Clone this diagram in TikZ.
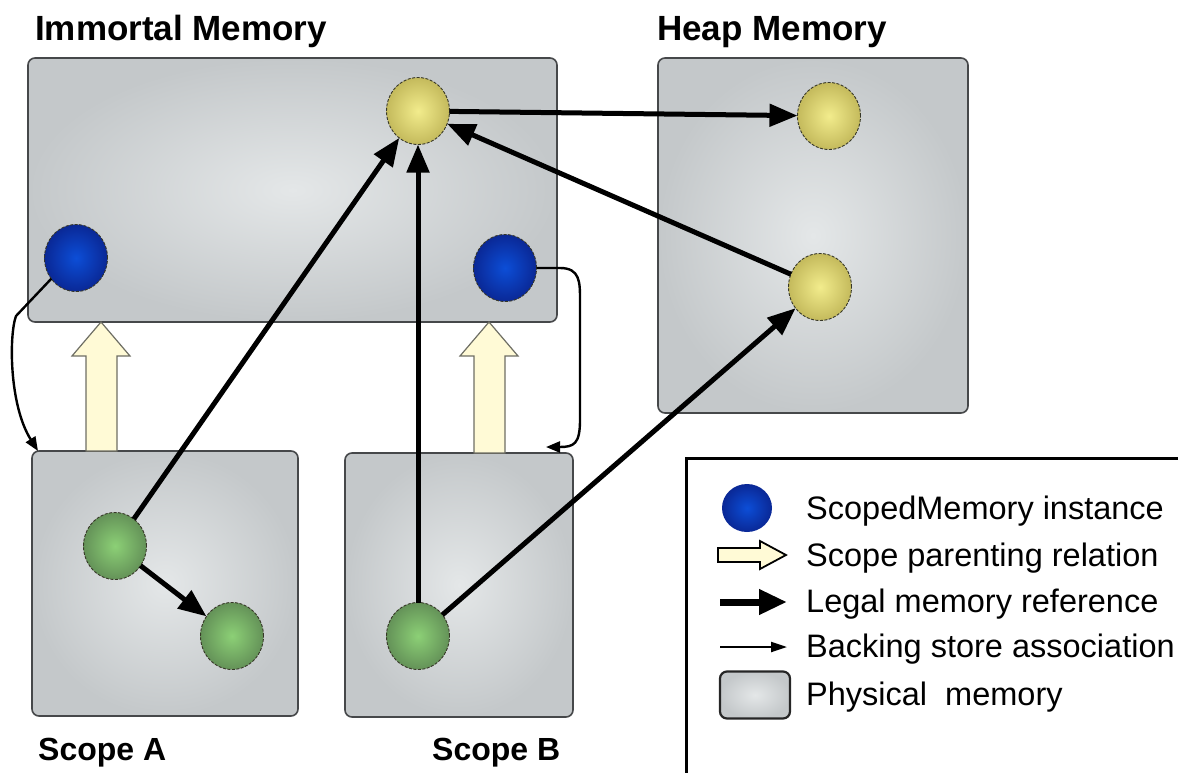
\documentclass[tikz,border=0pt]{standalone}
\usepackage{fontspec}
\setmainfont{Liberation Sans}
\usetikzlibrary{shapes.geometric,arrows.meta}
\definecolor{boxin}{RGB}{228,231,232}
\definecolor{boxout}{RGB}{196,200,202}
\definecolor{boxedge}{RGB}{70,72,74}
\definecolor{yin}{RGB}{242,236,140}
\definecolor{yout}{RGB}{196,186,92}
\definecolor{gin}{RGB}{140,208,118}
\definecolor{gout}{RGB}{100,146,88}
\definecolor{bin}{RGB}{12,78,215}
\definecolor{bout}{RGB}{10,40,150}
\definecolor{cream}{RGB}{255,250,214}
\definecolor{creamedge}{RGB}{110,110,100}
\definecolor{rimline}{RGB}{55,55,40}
\tikzset{
  x=1pt, y=-1pt,
  memory/.style={draw=boxedge, line width=1.6pt, rounded corners=7pt,
    inner color=boxin, outer color=boxout, inner sep=0pt, outer sep=0pt},
  obj/.style={ellipse, minimum width=63pt, minimum height=67pt, inner sep=0pt,
    outer sep=0pt, draw=rimline, line width=0.9pt, dash pattern=on 3pt off 1.5pt},
  heapobj/.style={obj, inner color=yin, outer color=yout},
  scopeobj/.style={obj, inner color=gin, outer color=gout},
  scopemem/.style={obj, inner color=bin, outer color=bout},
  legal/.style={line width=5pt, -{Triangle[length=28pt,width=22pt]}},
  backing/.style={line width=2.4pt, -{Triangle[length=14pt,width=11pt]}},
  parent/.style={fill=cream, draw=creamedge, line width=1.2pt, line join=miter},
  title/.style={font=\bfseries\fontsize{35}{40}\selectfont, anchor=base west, inner sep=0pt},
  scopelabel/.style={font=\bfseries\fontsize{32}{36}\selectfont, anchor=base west, inner sep=0pt},
  legendtext/.style={font=\fontsize{32.5}{36}\selectfont, anchor=base west, inner sep=0pt},
}
\begin{document}
\begin{tikzpicture}
\useasboundingbox (0,0) rectangle (1178,772);

% titles
\node[title] (timm) at (35,40) {Immortal Memory};
\node[title] (theap) at (657,40) {Heap Memory};

% memory areas
\node[memory, minimum width=529pt, minimum height=264pt] (imm) at (292.5,190) {};
\node[memory, minimum width=310pt, minimum height=355pt] (heap) at (813,235.5) {};
\node[memory, minimum width=266pt, minimum height=265pt] (sa) at (165,583.5) {};
\node[memory, minimum width=228pt, minimum height=264pt] (sb) at (459,585) {};

\node[scopelabel] (lsa) at (38,760) {Scope A};
\node[scopelabel] (lsb) at (432,760) {Scope B};

% scope parenting arrows
\draw[parent] (86,451) -- (86,356) -- (72,356) -- (101,322) -- (130,356) -- (117,356) -- (117,451) -- cycle;
\draw[parent] (474,453) -- (474,356) -- (460,356) -- (489,322) -- (518,356) -- (505,356) -- (505,453) -- cycle;

% objects
\node[heapobj] (imy) at (418,111) {};
\node[heapobj] (hy1) at (829,116) {};
\node[heapobj] (hy2) at (820,287) {};
\node[scopemem] (bl) at (76,258) {};
\node[scopemem] (br) at (505,268) {};
\node[scopeobj] (ga1) at (115,546) {};
\node[scopeobj] (ga2) at (232,636) {};
\node[scopeobj] (gb) at (418,636) {};

% legal memory references
\draw[legal] (imy) -- (hy1);
\draw[legal] (hy2) -- (imy);
\draw[legal] (ga1) -- (imy);
\draw[legal] (gb) -- (imy);
\draw[legal] (gb) -- (hy2);
\draw[legal] (ga1) -- (ga2);

% backing store associations
\coordinate (bsa) at (38,451);
\coordinate (bsb) at (546,447);
\draw[backing] (bl.220) -- (16,316) .. controls (9,335) and (9,405) .. (bsa);
\draw[backing] (br.east) -- (560,268) .. controls (580,268) and (580,282) .. (580,300)
  -- (580,420) .. controls (580,444) and (574,447) .. (bsb);

% legend
\draw[line width=3pt] (686,458) rectangle (1200,800);
\node[scopemem, minimum width=50pt, minimum height=48pt, draw=none] (kmem) at (747,508) {};
\draw[parent, line width=1.8pt, draw=black] (718,548) -- (760,548) -- (760,541) -- (786,555) -- (760,569) -- (760,562) -- (718,562) -- cycle;
\coordinate (klegA) at (720,602);
\coordinate (klegB) at (787,602);
\draw[line width=7pt, -{Triangle[length=28pt,width=24pt]}] (klegA) -- (klegB);
\coordinate (kbackA) at (720,647);
\coordinate (kbackB) at (787,647);
\draw[line width=2.2pt, -{Triangle[length=16pt,width=10pt]}] (kbackA) -- (kbackB);
\node[memory, line width=2.2pt, draw=black!85, minimum width=70pt, minimum height=47pt] (kphys) at (755,695) {};

\node[legendtext] (t1) at (806,519) {ScopedMemory instance};
\node[legendtext] (t2) at (806,566) {Scope parenting relation};
\node[legendtext] (t3) at (806,612) {Legal memory reference};
\node[legendtext] (t4) at (806,657) {Backing store association};
\node[legendtext] (t5) at (806,705) {Physical\ \ memory};
\end{tikzpicture}
\end{document}
